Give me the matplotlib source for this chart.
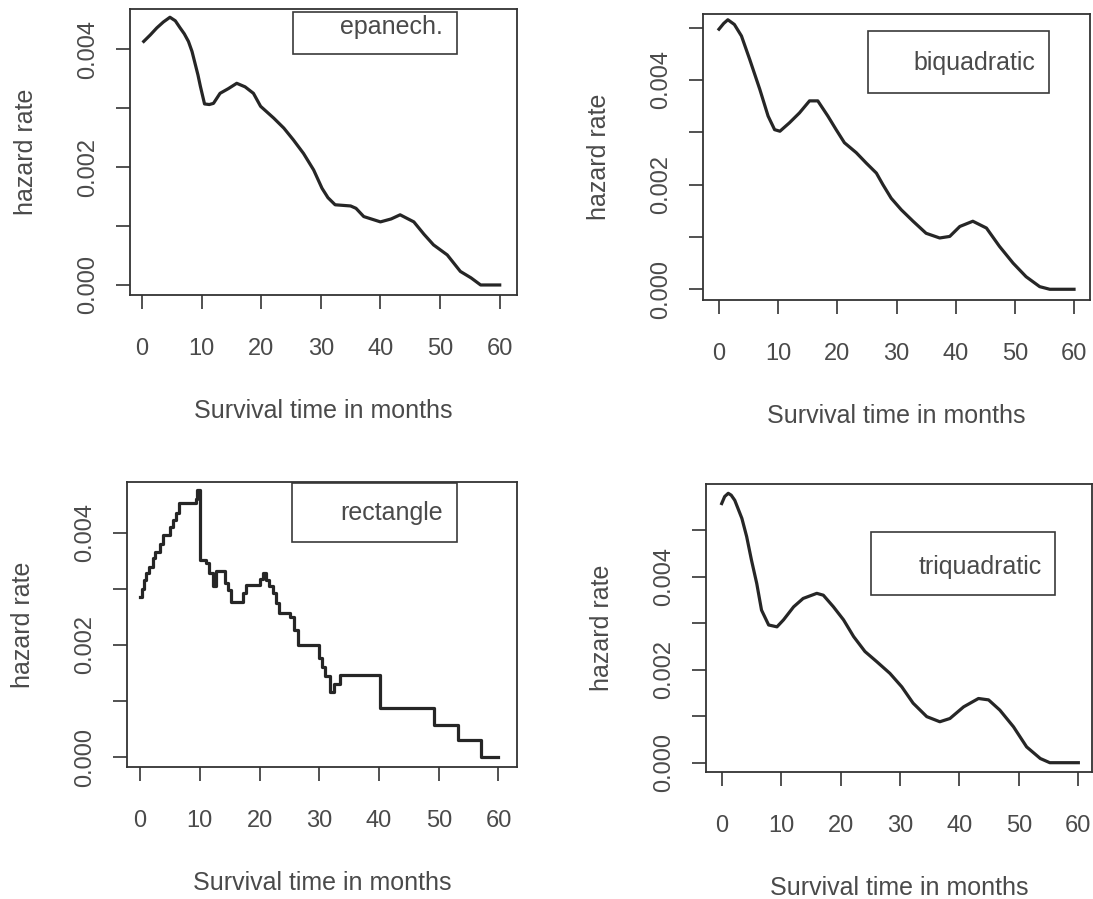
import matplotlib
matplotlib.use("Agg")
from matplotlib import pyplot as plt
from matplotlib.patches import Rectangle

# hazard rate estimates (time in months, rate x 1e-3)
epan_t = [0.3, 1.4, 2.5, 3.6, 4.7, 5.6, 6.4, 7.1, 7.8, 8.4, 8.9, 9.4, 9.8, 10.5,
          11.3, 12.0, 13.1, 14.5, 15.9, 17.3, 18.7, 19.9, 21.0, 22.1, 23.8, 25.4,
          27.1, 28.8, 30.2, 31.2, 32.4, 35.0, 35.9, 37.2, 40.0, 41.8, 43.3, 45.6,
          47.3, 48.9, 51.2, 53.4, 55.2, 56.8, 60.0]
epan_v = [4.13, 4.24, 4.36, 4.46, 4.54, 4.48, 4.36, 4.26, 4.13, 3.96, 3.76, 3.56,
          3.37, 3.07, 3.06, 3.08, 3.25, 3.33, 3.42, 3.36, 3.25, 3.03, 2.93, 2.83,
          2.66, 2.46, 2.23, 1.95, 1.64, 1.48, 1.36, 1.34, 1.30, 1.16, 1.07, 1.12,
          1.19, 1.07, 0.86, 0.68, 0.51, 0.23, 0.12, 0.0, 0.0]

biq_t = [0.0, 0.8, 1.5, 2.6, 3.8, 5.2, 6.9, 8.3, 9.4, 10.3, 11.9, 13.6, 15.3,
         16.7, 18.4, 19.8, 21.2, 23.2, 24.9, 26.6, 27.7, 29.1, 30.8, 32.8, 35.0,
         37.3, 39.0, 40.7, 42.9, 45.2, 47.4, 49.7, 51.9, 54.2, 55.9, 60.0]
biq_v = [4.97, 5.08, 5.15, 5.06, 4.84, 4.39, 3.82, 3.31, 3.05, 3.02, 3.18, 3.37,
         3.60, 3.60, 3.31, 3.05, 2.80, 2.61, 2.41, 2.22, 2.00, 1.74, 1.52, 1.30,
         1.07, 0.98, 1.01, 1.20, 1.30, 1.17, 0.82, 0.50, 0.24, 0.05, 0.0, 0.0]

# rectangle kernel gives a step function: value holds from each time to the next
rect_t = [0.0, 0.3, 0.6, 1.0, 1.4, 2.2, 2.5, 3.3, 3.8, 5.0, 5.5, 6.0, 6.5, 9.3,
          9.6, 10.1, 11.0, 11.5, 12.2, 12.7, 14.2, 14.7, 15.2, 17.3, 17.8, 20.1,
          20.5, 21.0, 21.6, 22.2, 22.8, 23.3, 25.1, 25.7, 26.5, 29.9, 30.4, 31.0,
          31.8, 32.4, 33.4, 33.8, 40.1, 49.2, 53.2, 57.0, 60.0]
rect_v = [2.86, 3.00, 3.16, 3.28, 3.39, 3.55, 3.66, 3.80, 3.96, 4.10, 4.23, 4.35,
          4.52, 4.60, 4.76, 3.51, 3.45, 3.28, 3.04, 3.31, 3.10, 2.98, 2.77, 2.92,
          3.07, 3.18, 3.28, 3.16, 3.05, 2.92, 2.75, 2.56, 2.50, 2.27, 2.00, 1.76,
          1.60, 1.44, 1.17, 1.30, 1.47, 1.47, 0.87, 0.58, 0.31, 0.0, 0.0]

triq_t = [0.0, 0.5, 1.1, 1.6, 2.2, 3.4, 4.2, 5.0, 5.9, 6.7, 7.9, 9.3, 10.4, 12.1,
          13.7, 16.0, 17.1, 18.8, 20.5, 22.2, 24.1, 26.1, 28.3, 30.3, 32.2, 34.5,
          36.7, 38.4, 40.7, 43.2, 44.9, 46.8, 49.1, 51.3, 53.6, 55.2, 60.0]
triq_v = [5.57, 5.72, 5.79, 5.75, 5.64, 5.25, 4.86, 4.36, 3.85, 3.28, 2.96, 2.92,
          3.07, 3.35, 3.53, 3.64, 3.60, 3.35, 3.07, 2.71, 2.39, 2.17, 1.92, 1.63,
          1.28, 0.99, 0.88, 0.95, 1.20, 1.38, 1.35, 1.13, 0.77, 0.34, 0.09, 0.0, 0.0]

x_ticks = [0, 10, 20, 30, 40, 50, 60]

W, H = 1093, 899
plt.rcParams['font.family'] = ['Liberation Sans', 'DejaVu Sans']
text_col = '#4a4a4a'
line_col = '#262626'

fig = plt.figure(figsize=(W / 100, H / 100), dpi=100)
fig.patch.set_facecolor('white')


def panel(left, top, right, bottom):
    return fig.add_axes([left / W, 1 - bottom / H, (right - left) / W, (bottom - top) / H])


panels = [
    # box in pixels, xlim, ylim (x 1e-3), number of y ticks, legend box, text anchor
    dict(box=(130, 9, 517, 295), xlim=(-2.0, 62.9), ylim=(-0.17, 4.68), ny=5,
         leg=(0.421, 0.843, 0.424, 0.147), txt=(0.809, 0.937), name="epanech.",
         t=epan_t, v=epan_v, step=False),
    dict(box=(703, 14, 1090, 300), xlim=(-2.7, 62.7), ylim=(-0.205, 5.26), ny=6,
         leg=(0.426, 0.724, 0.468, 0.217), txt=(0.858, 0.829), name="biquadratic",
         t=biq_t, v=biq_v, step=False),
    dict(box=(127, 482, 517, 767), xlim=(-2.2, 63.1), ylim=(-0.173, 4.90), ny=5,
         leg=(0.423, 0.789, 0.423, 0.207), txt=(0.81, 0.891), name="rectangle",
         t=rect_t, v=rect_v, step=True),
    dict(box=(706, 484, 1092, 772), xlim=(-2.64, 62.3), ylim=(-0.2, 5.99), ny=6,
         leg=(0.427, 0.615, 0.477, 0.218), txt=(0.870, 0.712), name="triquadratic",
         t=triq_t, v=triq_v, step=False),
]

for p in panels:
    ax = panel(*p['box'])
    yv = [v / 1000 for v in p['v']]
    if p['step']:
        ax.plot(p['t'], yv, color=line_col, lw=2.3, drawstyle='steps-post')
    else:
        ax.plot(p['t'], yv, color=line_col, lw=2.3, solid_joinstyle='round')
    ax.set_xlim(*p['xlim'])
    ax.set_ylim(p['ylim'][0] / 1000, p['ylim'][1] / 1000)

    ax.set_xticks(x_ticks)
    ax.set_xticklabels([str(x) for x in x_ticks])
    y_ticks = [i / 1000 for i in range(p['ny'])]
    ax.set_yticks(y_ticks)
    ax.set_yticklabels(["%.3f" % y if i % 2 == 0 else "" for i, y in enumerate(y_ticks)],
                       rotation=90, va='center')
    ax.tick_params(axis='both', direction='out', length=10, width=1.2,
                   color='#333333', labelsize=17, labelcolor=text_col)
    ax.tick_params(axis='x', pad=21)
    ax.tick_params(axis='y', pad=12)
    for s in ax.spines.values():
        s.set_color('#333333')
        s.set_linewidth(1.3)

    ax.set_xlabel("Survival time in months", fontsize=18, color=text_col)
    ax.set_ylabel("hazard rate", fontsize=18, color=text_col)
    h_px = p['box'][3] - p['box'][1]
    w_px = p['box'][2] - p['box'][0]
    ax.xaxis.set_label_coords(0.5, -104 / h_px)
    ax.yaxis.set_label_coords(-92 / w_px, 0.5)

    lx, ly, lw, lh = p['leg']
    ax.add_patch(Rectangle((lx, ly), lw, lh, transform=ax.transAxes, fill=False,
                           edgecolor='#3a3a3a', lw=1.2))
    ax.text(p['txt'][0], p['txt'][1], p['name'], transform=ax.transAxes, ha='right',
            va='center', fontsize=18, color=text_col)

fig.savefig("out.png", dpi=100)
